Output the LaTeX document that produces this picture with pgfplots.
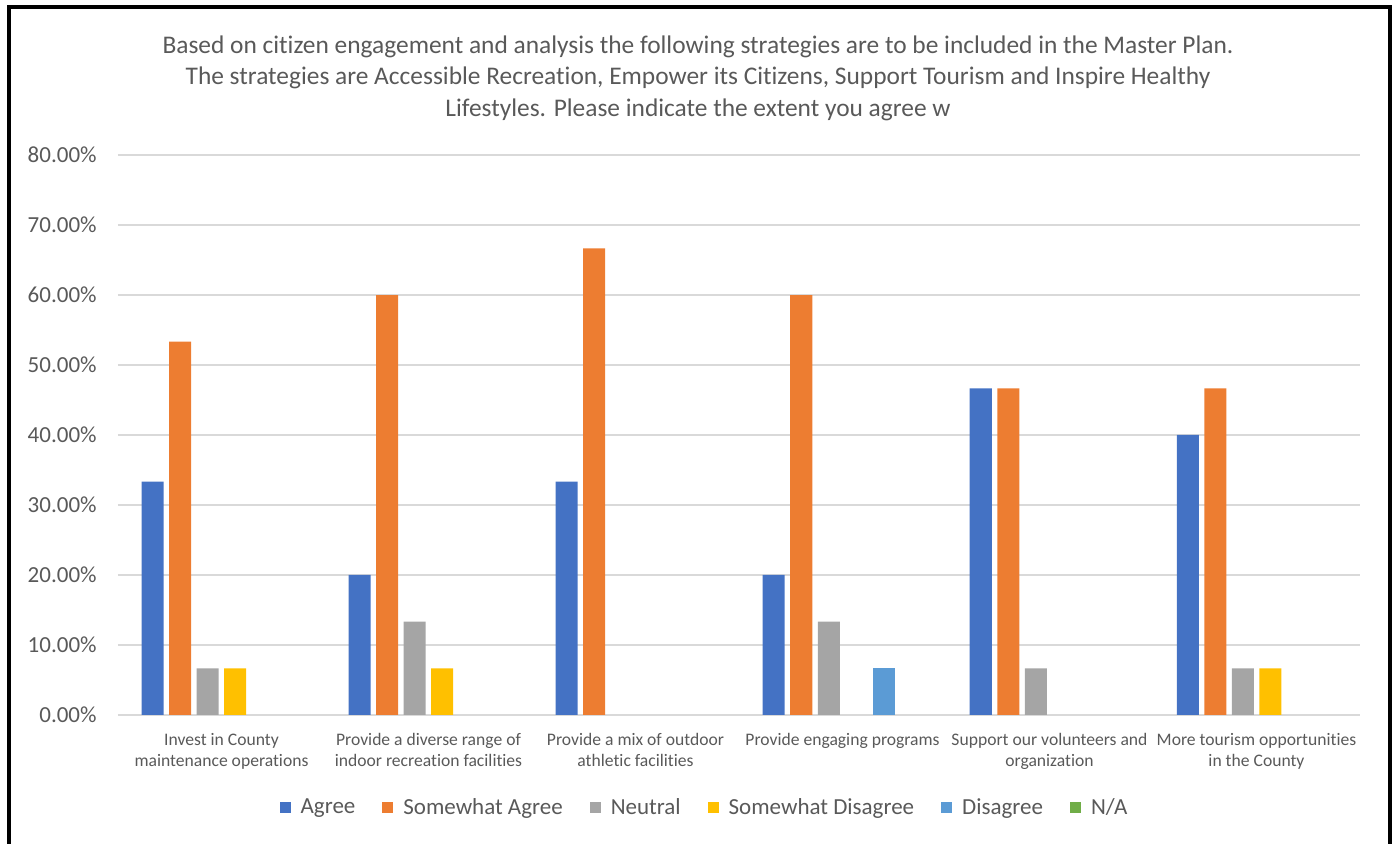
\documentclass[border=0pt]{standalone}
\usepackage{pgfplots}
\pgfplotsset{compat=1.18}
\usepackage{fontspec}
\setmainfont[Ligatures={NoCommon}]{Carlito}
\definecolor{cAgree}{HTML}{4472C4}
\definecolor{cSomeAgree}{HTML}{ED7D31}
\definecolor{cNeutral}{HTML}{A5A5A5}
\definecolor{cSomeDis}{HTML}{FFC000}
\definecolor{cDis}{HTML}{5B9BD5}
\definecolor{cNA}{HTML}{70AD47}
\definecolor{gridgray}{HTML}{D9D9D9}
\definecolor{labelgray}{HTML}{595959}
\begin{document}
\begin{tikzpicture}
% picture size in px: 1397 x 844, 1px = 0.5pt, origin at the axis' lower-left corner
\useasboundingbox (-59pt,-64.5pt) rectangle (639.5pt,357.5pt);
\draw[black, line width=1.75pt] (-54.5pt,-64.5pt) -- (-54.5pt,354pt) -- (636pt,354pt) -- (636pt,-64.5pt);
\node[align=center, font=\fontsize{12.7}{15.75}\selectfont, text=labelgray] at (290pt,318.5pt)
  {Based on citizen engagement and analysis the following strategies are to be included in the Master Plan.\\
   The strategies are Accessible Recreation, Empower its Citizens, Support Tourism and Inspire Healthy\\
   Lifestyles. Please indicate the extent you agree w};
\begin{axis}[
    at={(0pt,0pt)}, anchor=south west,
    scale only axis, width=621pt, height=280pt,
    ybar=2.75pt, bar width=11pt,
    xmin=-0.5, xmax=5.5, ymin=0, ymax=80,
    xtick={0,1,2,3,4,5},
    xticklabels={
      {Invest in County\\maintenance operations},
      {Provide a diverse range of\\indoor recreation facilities},
      {Provide a mix of outdoor\\athletic facilities},
      {Provide engaging programs},
      {Support our volunteers and\\organization},
      {More tourism opportunities\\in the County}},
    ytick={0,10,20,30,40,50,60,70,80},
    yticklabels={0.00\%,10.00\%,20.00\%,30.00\%,40.00\%,50.00\%,60.00\%,70.00\%,80.00\%},
    ymajorgrids=true,
    grid style={color=gridgray, line width=0.9pt},
    axis line style={draw=none},
    major tick length=0pt,
    yticklabel style={font=\fontsize{11.5}{13}\selectfont, text=labelgray, inner sep=0pt, xshift=-10.5pt},
    xticklabel style={font=\fontsize{8.8}{10.5}\selectfont, text=labelgray, align=center, inner sep=0pt, yshift=-9pt},
    legend style={at={(0.473,-0.166)}, anchor=center, draw=none, fill=none,
      legend columns=-1, font=\fontsize{11.5}{13}\selectfont, text=labelgray,
      /tikz/every odd column/.append style={column sep=3pt},
      /tikz/every even column/.append style={column sep=11.5pt}},
    legend image code/.code={\fill[#1] (0pt,-2.75pt) rectangle (5.5pt,2.75pt);},
]
% zero values are left out so that no hairline is drawn for them
\addplot[fill=cAgree, draw=none] coordinates {(0,33.33)(1,20)(2,33.33)(3,20)(4,46.67)(5,40)};
\addplot[fill=cSomeAgree, draw=none] coordinates {(0,53.33)(1,60)(2,66.67)(3,60)(4,46.67)(5,46.67)};
\addplot[fill=cNeutral, draw=none] coordinates {(0,6.67)(1,13.33)(3,13.33)(4,6.67)(5,6.67)};
\addplot[fill=cSomeDis, draw=none] coordinates {(0,6.67)(1,6.67)(5,6.67)};
\addplot[fill=cDis, draw=none] coordinates {(3,6.67)};
\addplot[fill=none, draw=none, legend image code/.code={\fill[cNA] (0pt,-2.75pt) rectangle (5.5pt,2.75pt);}]
  coordinates {(0,0)(1,0)(2,0)(3,0)(4,0)(5,0)};
\legend{Agree, Somewhat Agree, Neutral, Somewhat Disagree, Disagree, N/A}
\end{axis}
\end{tikzpicture}
\end{document}
